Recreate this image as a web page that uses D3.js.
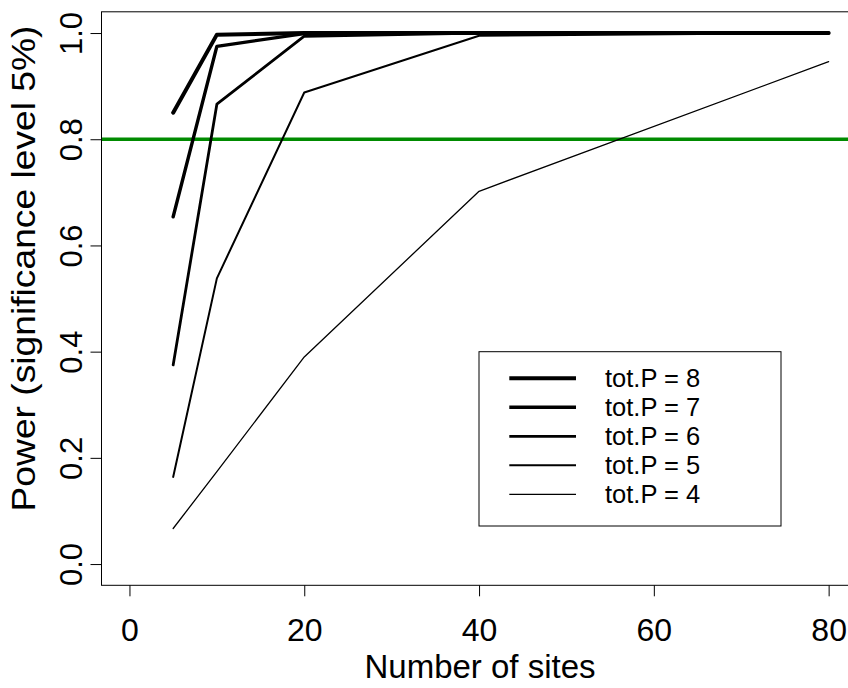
<!DOCTYPE html>
<html>
<head>
<meta charset="utf-8">
<script src="https://cdn.jsdelivr.net/npm/d3@7"></script>
<style>
  body { margin: 0; background: #fff; }
  svg { display: block; font-family: "Liberation Sans", Arial, sans-serif; }
</style>
</head>
<body>
<svg id="chart"></svg>
<script>
// Data
const sites = [5, 10, 20, 40, 80];
const totP = [8, 7, 6, 5, 4];
const power8 = [0.850, 0.997, 1.000, 1.000, 1.000];
const power7 = [0.654, 0.975, 0.999, 1.000, 1.000];
const power6 = [0.375, 0.866, 0.994, 1.000, 1.000];
const power5 = [0.164, 0.538, 0.888, 0.995, 1.000];
const power4 = [0.067, 0.174, 0.390, 0.702, 0.946];
const xTicks = [0, 20, 40, 60, 80];
const yTicks = [0, 0.2, 0.4, 0.6, 0.8, 1.0];
const threshold = 0.8;

const seriesList = [power8, power7, power6, power5, power4];
const lineWidths = [4, 3.4, 2.8, 2, 1.3];

const width = 848;
const height = 688;
const plot = { left: 101.5, top: 11.8, right: 856.6, bottom: 585.3 };

const svg = d3.select('#chart').attr('width', width).attr('height', height);

// R style axis extension (4% each side)
const x = d3.scaleLinear().domain([-3.2, 83.2]).range([plot.left, plot.right]);
const y = d3.scaleLinear().domain([-0.04, 1.04]).range([plot.bottom, plot.top]);

svg.append('clipPath').attr('id', 'clip')
  .append('rect')
  .attr('x', plot.left).attr('y', plot.top)
  .attr('width', plot.right - plot.left).attr('height', plot.bottom - plot.top);

const g = svg.append('g').attr('clip-path', 'url(#clip)');

// 80% power reference line
g.append('line')
  .attr('x1', plot.left).attr('x2', plot.right)
  .attr('y1', y(threshold)).attr('y2', y(threshold))
  .attr('stroke', '#008B00')
  .attr('stroke-width', 3.5);

const line = d3.line()
  .x((d, i) => x(sites[i]))
  .y(d => y(d));

seriesList.forEach((vals, i) => {
  g.append('path')
    .datum(vals)
    .attr('fill', 'none')
    .attr('stroke', '#000')
    .attr('stroke-width', lineWidths[i])
    .attr('stroke-linecap', 'round')
    .attr('stroke-linejoin', 'round')
    .attr('d', line);
});

// plot box
svg.append('rect')
  .attr('x', plot.left).attr('y', plot.top)
  .attr('width', plot.right - plot.left).attr('height', plot.bottom - plot.top)
  .attr('fill', 'none')
  .attr('stroke', '#000')
  .attr('stroke-width', 1);

// x axis
const xAxis = svg.append('g')
  .attr('transform', `translate(0,${plot.bottom})`)
  .call(d3.axisBottom(x).tickValues(xTicks).tickSize(11).tickSizeOuter(0).tickFormat(d3.format('d')));
xAxis.select('.domain').remove();
xAxis.selectAll('.tick line').attr('stroke', '#000');
xAxis.selectAll('.tick text')
  .attr('y', 55.7)
  .attr('dy', 0)
  .attr('fill', '#000')
  .style('font-size', '32px');

// y axis
const yAxis = svg.append('g')
  .attr('transform', `translate(${plot.left},0)`)
  .call(d3.axisLeft(y).tickValues(yTicks).tickSize(11).tickSizeOuter(0).tickFormat(d3.format('.1f')));
yAxis.select('.domain').remove();
yAxis.selectAll('.tick line').attr('stroke', '#000');
yAxis.selectAll('.tick text')
  .attr('transform', 'rotate(-90)')
  .attr('x', 0)
  .attr('y', -19.8)
  .attr('dy', 0)
  .attr('fill', '#000')
  .style('text-anchor', 'middle')
  .style('font-size', '31px');

// axis titles
svg.append('text')
  .attr('x', 480)
  .attr('y', 678.3)
  .attr('text-anchor', 'middle')
  .style('font-size', '33px')
  .text('Number of sites');

svg.append('text')
  .attr('transform', 'translate(35,268.5) rotate(-90)')
  .attr('text-anchor', 'middle')
  .attr('textLength', 486)
  .attr('lengthAdjust', 'spacingAndGlyphs')
  .style('font-size', '33px')
  .text('Power (significance level 5%)');

// legend
const legend = svg.append('g');
legend.append('rect')
  .attr('x', 479).attr('y', 351.7)
  .attr('width', 302).attr('height', 174.3)
  .attr('fill', '#fff')
  .attr('stroke', '#000')
  .attr('stroke-width', 1);

totP.forEach((p, i) => {
  const cy = 378.3 + i * 29;
  legend.append('line')
    .attr('x1', 509.3).attr('x2', 576)
    .attr('y1', cy).attr('y2', cy)
    .attr('stroke', '#000')
    .attr('stroke-width', lineWidths[i]);
  legend.append('text')
    .attr('x', 605)
    .attr('y', cy)
    .attr('dy', '0.36em')
    .style('font-size', '25.5px')
    .text(`tot.P = ${p}`);
});
</script>
</body>
</html>
